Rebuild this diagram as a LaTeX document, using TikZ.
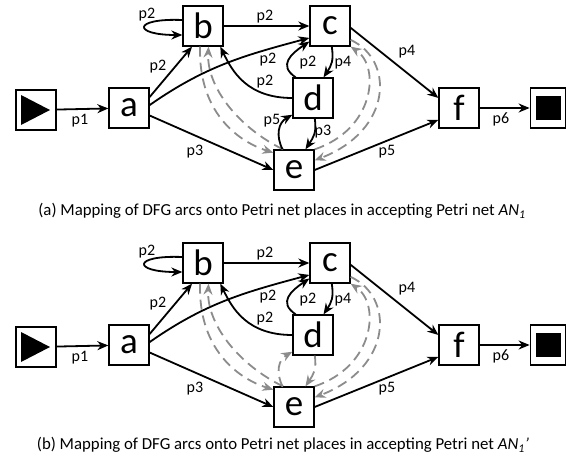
\documentclass[tikz,border=0pt]{standalone}
\usepackage{fontspec}
\setmainfont{Carlito}
\usetikzlibrary{arrows.meta,calc}
\definecolor{dgray}{RGB}{140,140,140}
\tikzset{
  trans/.style={draw, line width=1.8pt, minimum width=39.5pt, minimum height=39.5pt, inner sep=0pt, font=\fontsize{37}{37}\selectfont},
  arc/.style={-{Stealth[length=11pt,width=9pt]}, line width=1.8pt},
  garc/.style={-{Stealth[length=11pt,width=9pt]}, line width=1.8pt, color=dgray, dash pattern=on 10pt off 6pt},
  lbl/.style={font=\fontsize{16}{16}\selectfont, inner sep=0pt},
  captext/.style={font=\fontsize{16.8}{17}\selectfont, inner sep=0pt}
}
\newcommand\netcommon{%
  \node[trans] (s) at (36,110) {};
  \fill ($(s.center)+(-15,-15)$) -- ++(0,30) -- ++(29,-15) -- cycle;
  \node[trans] (a) at (129,108) {a};
  \node[trans] (b) at (203,26) {b};
  \node[trans] (c) at (330,26) {c};
  \node[trans] (d) at (313,98) {d};
  \node[trans] (e) at (294,170) {e};
  \node[trans] (f) at (459,108) {f};
  \node[trans, minimum width=35pt] (t) at (548,108) {};
  \fill ($(t.center)+(-12.5,-12)$) rectangle ++(25,24);
  % black arcs
  \draw[arc] (s) -- (a);
  \draw[arc] (a.28) -- (b.-118);
  \draw[arc] ($(b.west)+(0,-6)$) .. controls +(-50,-2) and +(-50,0) .. ($(b.west)+(0,9)$);
  \draw[arc] (b) -- (c);
  \draw[arc] (a.8) to[out=35,in=195] (c.210);
  \draw[arc] (d.west) .. controls +(-45,0) and +(12,25) .. (b.-50);
  \draw[arc] (d.130) .. controls +(-18,-12) and +(-18,12) .. (c.-143);
  \draw[arc] (c.-85) .. controls +(2,14) and +(8,-12) .. (d.63);
  \draw[arc] (a.-20) -- (e.west);
  \draw[arc] (c.-5) -- (f.154);
  \draw[arc] (e.east) -- (f.210);
  \draw[arc] (f) -- (t);
  % grey dashed arcs
  \draw[garc] (b.-98) .. controls +(-2,63) and +(-38,-12) .. (e.140);
  \draw[garc] (e.118) .. controls +(-45,-22) and +(-2,40) .. (b.-75);
  \draw[garc] (c.-34) .. controls +(44,20) and +(78,-30) .. (e.25);
  \draw[garc] (e.45) .. controls +(60,-20) and +(30,20) .. (c.-45);
  % labels
  \node[lbl] (l1) at (80,121) {p1};
  \node[lbl] (l2) at (147,15) {p2};
  \node[lbl] (l3) at (158,67) {p2};
  \node[lbl] (l4) at (265,17) {p2};
  \node[lbl] (l5) at (268,60) {p2};
  \node[lbl] (l6) at (265,82) {p2};
  \node[lbl] (l7) at (308,63) {p2};
  \node[lbl] (l8) at (343,63) {p4};
  \node[lbl] (l9) at (407,52) {p4};
  \node[lbl] (l10) at (195,152) {p3};
  \node[lbl] (l11) at (387,152) {p5};
  \node[lbl] (l12) at (501,119) {p6};
}
\begin{document}
\begin{tikzpicture}[x=1pt,y=-1pt]
\useasboundingbox (0,0) rectangle (566,458);
\begin{scope}[name prefix=A-]
  \netcommon
  \draw[arc] (d.-85) .. controls +(2,14) and +(8,-12) .. (e.61);
  \draw[arc] (e.119) .. controls +(-7,-14) and +(-14,8) .. (d.219);
  \node[lbl] (l13) at (272,121) {p5};
  \node[lbl] (l14) at (323,132) {p3};
  \node[captext] (cap) at (282,211) {(a) Mapping of DFG arcs onto Petri net places in accepting Petri net \textit{AN}\textsubscript{\textit{1}}};
\end{scope}
\begin{scope}[name prefix=B-, shift={(0,237)}]
  \netcommon
  \draw[garc] (d.-85) .. controls +(2,14) and +(8,-12) .. (e.61);
  \draw[garc] (e.119) .. controls +(-7,-14) and +(-14,8) .. (d.219);
  \node[captext] (cap) at (283,208) {(b) Mapping of DFG arcs onto Petri net places in accepting Petri net \textit{AN}\textsubscript{\textit{1}}\textit{'}};
\end{scope}
\end{tikzpicture}
\end{document}
